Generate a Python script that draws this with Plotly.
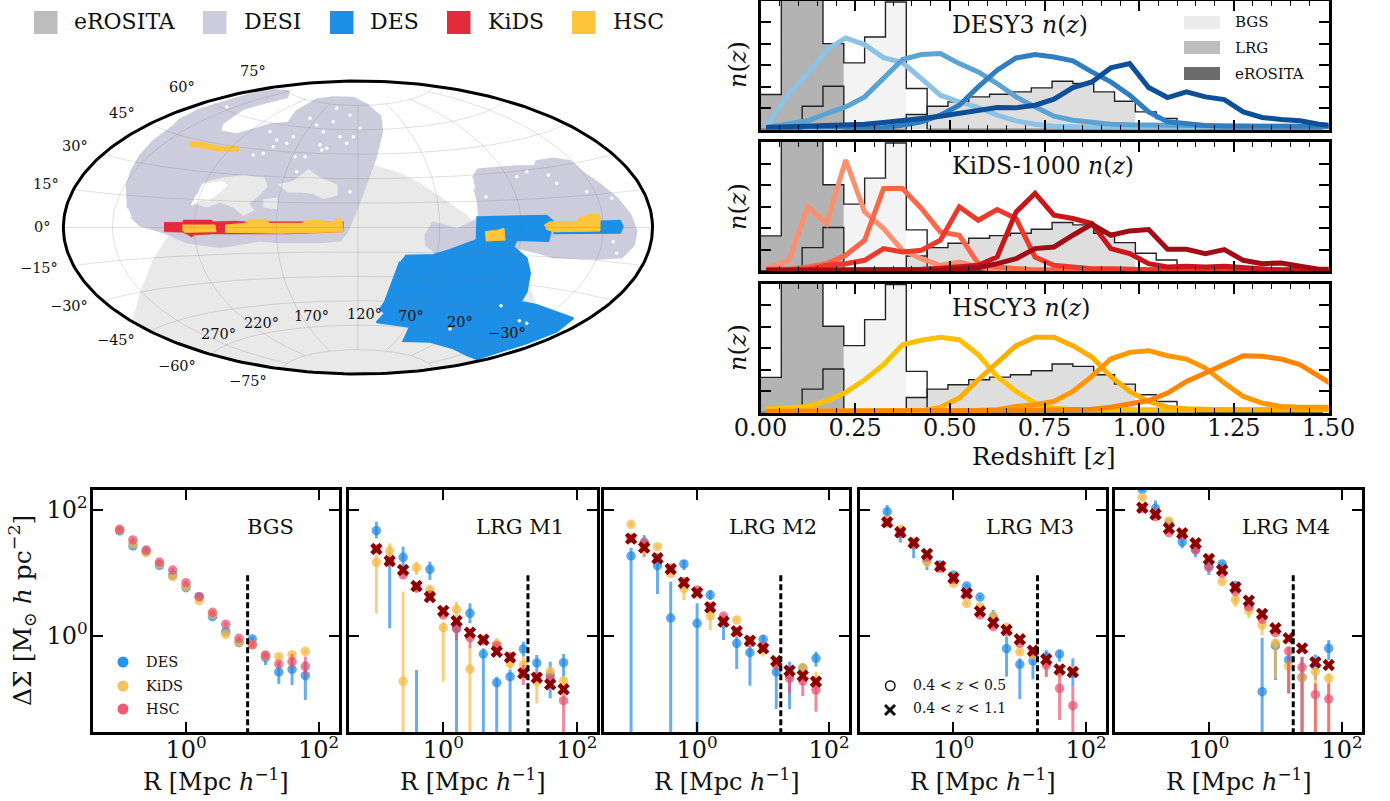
import numpy as np
import plotly.graph_objects as go

W, H = 1390, 801
SERIF = "DejaVu Serif"

# ---------- sky map footprints, in map units (the ellipse spans x 63.4..652.5, y 81..374)
erosita_x = [373,400,420,466.7,500,529,536,480,437,358,284,218,175,132.4,140,153,170,187,200,235,300]
erosita_y = [165,173,183,215,250,285,304,360.9,368.6,374,369.3,356.4,342.4,321.7,293,260,233,216,200,175,168]
desi_n_x = [128.3,127.3,131.7,140,153.3,173.3,180,200,226.7,253.3,266.7,288.3,286.7,266.7,243.3,233.3,221.7,220,236.7,253.3,270,288.3,296.7,316.7,333.3,353.3,366.7,380,381.7,375,366.7,356.7,346.7,340,320,276.7,260,220,186.7,163.3,140,131.7]
desi_n_y = [208.3,185,171.7,156.7,141.7,126.7,120,110,101.7,94.3,90,91.7,96.7,101.7,108.3,115,123.3,131.7,135,130,125,123.3,111.7,100,97.7,98.3,105,116.7,131.7,158.3,181.7,208.3,231.7,240,241.7,241.7,240,246.7,241.7,231.7,225,216.7]
desi_s_x = [473.3,478.3,496.7,516.7,535,536.7,553.3,570,583.3,600,616.7,630,636,633.3,621.7,600,553.3,536.7,513.3,516.7,480,478.3,475]
desi_s_y = [178.3,170,168.3,166.7,166.7,161.7,159,161.7,173.3,185,198.3,215,231.7,245,256.7,258.3,256.7,251.7,246.7,240,221.7,201.7,188.3]
desi_w_x = [476.7,456.7,446.7,433.3,426,426.7,440,453.3,480]
desi_w_y = [220,230,226.7,223.3,235,245,255,251.7,241.7]
gray_patch_a_x = [200,203.3,223.3,243.3,264,266.7,256.7,248.3,253.3,243.3,233.3,220,206.7,195]
gray_patch_a_y = [195,183.3,178.3,175.7,178.3,186.7,196.7,203.3,210,215,206.7,201.7,206.7,203.3]
gray_patch_b_x = [278.3,293.3,308.3,320,336.7,336.7,323.3,313.3,300,286.7]
gray_patch_b_y = [185,181.7,170,178.3,185,195,198.3,193.3,191.7,191.7]
gray_patch_c_x = [263.3,276.7,276.7,263.3]
gray_patch_c_y = [200,198.3,208.3,206.7]
white_patch_x = [201.7,221.7,226.7,220,208.3,201.7,191.7,196.7]
white_patch_y = [185,181.7,185,191.7,200,198.3,205,195]
specks_x = [273.3,286.7,270,320,326.7,321.7,305,346.7,340,353.3,333.3,323.3,310,316.7,293.3,263.3,253.3,296.7,350,276.7,360,350,336.7,248.3,226.7,295,
            516.7,556.7,526.7,548.3,586.7,486,611.7,613.3,616.7,501,519.3,526.7,450]
specks_y = [146.7,143.3,131.7,145,148.3,150,156.7,143.3,136.7,136.7,121.7,131.7,118.3,125,136.7,153.3,155,171.7,191.7,140,128.3,115,108.3,126.7,106.7,156.7,
            176.7,183.3,171.7,175,191.7,196.7,198.3,241.7,253.3,305.7,320.7,323.3,329]
des_main_x = [405,433.3,450,476.7,477.3,546.7,553.3,548.3,516.7,513.3,526.7,530,526.7,520.7,536.7,573.3,556.7,526.7,476.7,466.7,453.3,430,403.3,410,376.7,385,380,385,400]
des_main_y = [255.7,255,250,240,217.3,215.7,221.7,241,240,246.7,258.3,273.3,291.7,301.7,305,318.3,331.7,343.3,359,355,348.3,341.7,341,326.7,322.3,313.3,309,301.7,261.7]
des_strip_x = [553.3,620,622.7,620,553.3]
des_strip_y = [223.3,220.7,226.7,232.7,233.3]
kids_x = [164,182.7,183.3,211.7,213.3,235,245,256.7,268.3,296.7,325,343.3,343.3,286.7,245,226.7,213.3,194,191.7,188.3,182.7,164]
kids_y = [222.3,222.3,220,220,221.7,221,221.7,221.7,221.7,221.7,221.7,221.7,231.7,234,234,234,234,235,237.3,235,232.3,231.7]
hsc_a_x = [182.3,215,216,185,182.3]
hsc_a_y = [225,225,231.7,232.3,230]
hsc_b_x = [225,245,248.3,266.7,269,301.7,305,323.3,325,333.3,335,341.7,343.3,306.7,280,225]
hsc_b_y = [225,223.3,220,219,223.3,223.3,221,220,221.7,221.7,219,219,231.7,232.7,233.3,232.3]
hsc_c_x = [189,200,210,223.3,231.7,239.3,238.3,233.3,220,203.3,189]
hsc_c_y = [141.7,141.7,144.3,147.3,146,147.7,151.7,151.7,151,148.3,145.7]
hsc_d_x = [485,498.3,504,505,485.7]
hsc_d_y = [231.7,230,228.3,240,241]
hsc_e_x = [544.3,550,576.7,580,590,600,600,553.3,546]
hsc_e_y = [225,221.7,221.7,217.3,214.3,215,231,231.7,229]

lat_labels = ["75°","60°","45°","30°","15°","0°","−15°","−30°","−45°","−60°","−75°"]
lat_label_x = [253,182,122.4,75.2,46.4,42.4,39.4,69.1,115.8,176.6,248.3]
lat_label_y = [71,87.3,113.3,146,184.3,226.7,267.7,306,340,365.7,381]
lon_labels = ["270°","220°","170°","120°","70°","20°","−30°"]
lon_label_x = [218.5,261,311.2,364.1,410.8,459.8,507]
lon_label_y = [334.3,322.7,316,314,316,322.3,333.3]
map_meridians = [-150,-100,-50,0,50,100,150]
map_parallels = [-75,-60,-45,-30,-15,0,15,30,45,60,75]

survey_names = ["eROSITA","DESI","DES","KiDS","HSC"]
survey_colors = ["#bdbdbd","#ccccdd","#1e8fe6","#e32c39","#ffc53a"]

# ---------- redshift distributions (one axis tick = 64.3 read units)
hist_edges = [round(0.055*i,3) for i in range(28)]
bgs_hist = [105,430,430,258,200,278,383,123,0,0,0,0,0,0,0,0,0,0,0,0,0,0,0,0,0,0,0]
lrg_hist = [0,0,70,130,0,0,0,45,70,83,98,106,113,125,145,138,113,85,53,33,10,0,0,0,0,0,0]

z_grid = [0.015]+[round(0.075+0.05*i,3) for i in range(29)]+[1.525]
des1 = [8,108,168,240,275,255,216,201,153,103,83,66,43,26,16,10,8,6,5,5,5,5,5,5,4,4,4,4,4,4,4]
des2 = [6,15,26,48,68,98,153,210,225,228,198,173,138,98,68,40,28,21,16,14,13,12,11,10,10,10,10,10,10,10,10]
des3 = [5,5,5,5,5,6,6,13,23,43,73,128,178,215,225,218,206,173,143,103,53,23,16,12,10,10,10,10,10,10,10]
des4 = [6,8,10,12,13,16,21,26,33,40,48,58,66,65,73,91,126,143,185,198,126,96,113,98,90,53,36,30,26,16,10]
kids1 = [7,32,192,142,332,177,127,62,37,17,27,12,3,3,3,3,3,3,3,3,3,3,3,3,3,3,3,3,3,3,3]
kids2 = [5,5,12,22,47,92,247,247,187,117,107,22,12,7,3,3,3,3,3,3,3,3,3,3,3,3,3,3,3,3,3]
kids3 = [3,3,5,17,22,32,67,57,62,92,192,152,184,157,42,17,12,7,7,4,4,4,4,4,4,3,3,3,3,3,3]
kids4 = [2,2,2,2,2,2,3,3,5,8,12,17,42,177,232,167,157,142,67,52,22,12,14,12,14,10,7,3,3,3,3]
kids5 = [2,2,2,2,2,2,2,2,2,3,7,10,22,37,67,72,107,140,107,120,124,65,65,52,64,32,22,24,14,5,5]
hsc1 = [10,13,18,35,60,98,143,203,216,225,218,173,108,63,28,13,8,8,8,8,8,8,8,8,8,8,8,8,8,8,8]
hsc2 = [4,4,4,4,4,4,4,4,5,16,43,98,148,200,225,225,200,166,108,63,33,16,11,8,8,8,8,8,8,8,8]
hsc3 = [3,3,3,3,3,3,3,3,4,4,5,6,8,18,23,33,63,108,160,180,185,170,160,133,88,48,28,18,16,16,16]
hsc4 = [3,3,3,3,3,3,3,3,3,3,4,4,5,6,7,7,8,10,16,25,36,58,93,118,143,170,168,160,143,108,73]
des_colors = ["#8cc2e3","#5ba3d3","#2f7fc0","#0d4f99"]
kids_colors = ["#fc8f70","#fb6648","#ec392c","#c9161c","#a00d14"]
hsc_colors = ["#ffc000","#ffad00","#ff9800","#ff8500"]
nz_titles = ["DESY3","KiDS-1000","HSCY3"]
sample_names = ["BGS","LRG","eROSITA"]
sample_colors = ["#ececec","#bdbdbd","#6b6b6b"]

# ---------- lensing profiles: log10 Delta Sigma at each radius, bar ends as {index: (low, high)}
radius = [0.1,0.158,0.251,0.398,0.631,1.0,1.58,2.51,3.98,6.31,10.0,15.8,25.1,39.8,63.1]
panel_names = ["BGS","LRG M1","LRG M2","LRG M3","LRG M4"]
cut_radius = [8.5,18.5,18.5,18.5,18.5]

bgs_des = [1.666,1.427,1.342,1.119,.965,.764,.621,.302,.064,-.111,-.053,-.345,-.578,-.536,-.637]
bgs_kids = [1.682,1.459,1.321,1.141,.939,.78,.557,.34,.021,-.106,-.143,-.324,-.334,-.302,-.249]
bgs_hsc = [1.692,1.523,1.363,1.172,1.045,.843,.621,.371,.18,-.042,-.143,-.308,-.451,-.414,-.488]
bgs_des_err = {11:(-.467,-.255),12:(-.769,-.414),13:(-.785,-.361),14:(-1.024,-.414)}
bgs_kids_err = {}
bgs_hsc_err = {13:(-.52,-.3),14:(-.65,-.33)}

m1_des = [1.671,1.178,1.247,-2,1.056,None,.117,.355,-.292,-.748,-.653,-.212,-.435,-.626,-.43]
m1_kids = [1.167,1.347,-.727,1.082,.727,.127,.419,-.531,-.058,-.133,-.44,-.467,-.732,-.573,-.721]
m1_hsc = [1.379,1.178,.966,.769,.647,.329,.117,-.032,-.08,-.159,-.334,-.6,-.653,-.679,-1.034]
m1_x = [1.379,1.188,1.045,.79,.615,.393,.233,.048,-.064,-.255,-.345,-.6,-.668,-.775,-.854]
m1_des_err = {0:(1.549,1.814),1:(.117,1.337),2:(1.072,1.416),3:(-3,-.546),4:(.886,1.178),6:(-3,.196),7:(.196,.515),
              8:(-3,-.202),9:(-3,-.653),10:(-3,-.546),11:(-.334,-.095),12:(-.6,-.308),13:(-.997,-.414),14:(-.653,-.292)}
m1_kids_err = {0:(.355,1.284),1:(1.204,1.47),2:(-3,.7),3:(.966,1.178),4:(.568,.806),5:(-.732,.223),6:(.302,.541),
               7:(-3,-.202),9:(-.2,-.04),10:(-.546,-.334),11:(-.653,-.334),12:(-1.077,-.679),13:(-.706,-.493),14:(-.838,-.653)}
m1_hsc_err = {6:(-.069,.2),7:(-.202,.064),11:(-.785,-.467),14:(-3,-.918),3:(.68,.85)}

m2_des = [1.268,1.47,1.114,.281,1.141,.196,.647,.2,-.122,-.271,-.058,-.578,-.626,-.52,-.361]
m2_kids = [1.772,1.39,1.416,.992,.753,.674,.313,.22,.249,-.069,-.202,-.414,-.573,-.509,-.706]
m2_hsc = [1.549,1.485,1.241,1.072,.859,.727,.462,.313,.064,-.111,-.175,-.467,-.679,-.721,-.865]
m2_x = [1.544,1.401,1.231,1.061,.843,.684,.451,.223,.069,-.08,-.202,-.403,-.557,-.637,-.732]
m2_des_err = {0:(-3,1.4),1:(1.25,1.6),2:(.663,1.25),3:(-3,.859),4:(1.045,1.204),5:(-3,.515),6:(.568,.727),7:(-.07,.276),
              8:(-.53,-.016),9:(-.796,-.175),10:(-.28,.01),11:(-1.167,-.467),12:(-1.167,-.414),13:(-.652,-.44),14:(-.493,-.255)}
m2_kids_err = {1:(1.25,1.47),4:(.568,.85),6:(.09,.4),10:(-.334,-.12),14:(-.838,-.573)}
m2_hsc_err = {12:(-.918,-.573),13:(-.96,-.626),14:(-1.21,-.706)}

m3_des = [1.973,1.629,1.47,1.204,1.125,.966,.79,.615,.292,-.207,-.456,-.403,-.334,-.292,-.6]
m3_kids = [1.841,1.692,1.491,1.167,1.088,.833,.515,.462,.313,.133,-.26,-.308,-.44,-.589,-.557]
m3_hsc = [1.798,1.629,1.443,1.247,1.072,.897,.663,.329,.143,.064,-.122,-.255,-.467,-.838,-1.114]
m3_x = [1.804,1.645,1.48,1.3,1.103,.918,.674,.387,.207,.09,-.058,-.239,-.377,-.536,-.578]
m3_des_err = {0:(1.85,2.08),1:(1.48,1.72),2:(1.231,1.56),3:(1.045,1.3),8:(.17,.41),9:(-.653,-.016),10:(-1.008,-.361),
              11:(-.695,-.334),12:(-.5,-.23),13:(-.415,-.228),14:(-.812,-.361)}
m3_kids_err = {12:(-.663,-.33)}
m3_hsc_err = {12:(-.653,-.334),13:(-1.342,-.573),14:(-3,-.812)}

m4_des = [2.329,2.027,1.788,1.491,1.374,1.109,1.141,.796,.462,-.891,-.159,-.387,-.663,-.477,-.202]
m4_kids = [2.202,1.92,1.825,1.629,1.47,1.231,.859,.568,.398,.17,-.122,-.483,-.663,-.573,-.679]
m4_hsc = [2.027,1.894,1.639,1.602,1.363,1.088,.992,.7,.462,.26,.048,-.244,-.504,-.939,-1.008]
m4_x = [2.037,1.931,1.708,1.629,1.47,1.22,1.045,.769,.557,.345,.117,-.042,-.202,-.424,-.467]
m4_des_err = {1:(1.9,2.15),3:(1.39,1.56),4:(1.247,1.43),5:(.966,1.15),9:(-3,-.032),10:(-.706,-.069),11:(-.918,-.308),
              12:(-3,-.35),13:(-.7,-.3),14:(-.387,-.07)}
m4_kids_err = {7:(.46,.62),8:(.276,.45),9:(.011,.25),10:(-.679,-.05),11:(-.891,-.4),12:(-3,-.6),13:(-3,-.5),14:(-3,-.6)}
m4_hsc_err = {11:(-.918,-.178),12:(-3,-.334),13:(-3,-.76),14:(-3,-.76)}

des_series = [bgs_des,m1_des,m2_des,m3_des,m4_des]
kids_series = [bgs_kids,m1_kids,m2_kids,m3_kids,m4_kids]
hsc_series = [bgs_hsc,m1_hsc,m2_hsc,m3_hsc,m4_hsc]
wide_series = [None,m1_x,m2_x,m3_x,m4_x]
des_errs = [bgs_des_err,m1_des_err,m2_des_err,m3_des_err,m4_des_err]
kids_errs = [bgs_kids_err,m1_kids_err,m2_kids_err,m3_kids_err,m4_kids_err]
hsc_errs = [bgs_hsc_err,m1_hsc_err,m2_hsc_err,m3_hsc_err,m4_hsc_err]

# ---------- helpers
def fx(p): return p/W
def fy(p): return 1-p/H
fig = go.Figure()
annotations, shapes = [], []

def note(text, x, y, size, anchor="left", angle=0, xref="paper", yref="paper", color="#111"):
    if xref == "paper":
        x, y = fx(x), fy(y)
    annotations.append(dict(text=text, x=x, y=y, xref=xref, yref=yref, showarrow=False, xanchor=anchor,
                            yanchor="middle", textangle=angle, font=dict(family=SERIF, size=size, color=color)))

def box(x0, y0, x1, y1, color, kind="rect", line=None, lw=0):
    shapes.append(dict(type=kind, xref="paper", yref="paper", x0=fx(x0), x1=fx(x1), y0=fy(y1), y1=fy(y0),
                       fillcolor=color, line=dict(width=lw, color=line or color)))

def poly(xs, ys, color, lw=1.5):
    fig.add_trace(go.Scatter(x=xs, y=ys, mode="lines", fill="toself", fillcolor=color, line=dict(width=lw, color=color),
                             xaxis="x", yaxis="y", hoverinfo="skip", showlegend=False))

# ---------- map
MAP_X, MAP_Y = (63.4,652.5), (81,374)
def aitoff(lon, lat):
    lam, phi = np.radians(lon), np.radians(lat)
    alpha = np.arccos(np.cos(phi)*np.cos(lam/2))
    s = np.sinc(alpha/np.pi)
    x = 2*np.cos(phi)*np.sin(lam/2)/s/np.pi
    y = np.sin(phi)/s/(np.pi/2)
    return (MAP_X[0]+MAP_X[1])/2 + x*(MAP_X[1]-MAP_X[0])/2, (MAP_Y[0]+MAP_Y[1])/2 - y*(MAP_Y[1]-MAP_Y[0])/2

poly(erosita_x, erosita_y, "#e9e9e9", 0.5)
poly(desi_n_x, desi_n_y, "#ccccdd", 3)
poly(desi_s_x, desi_s_y, "#ccccdd", 3)
poly(desi_w_x, desi_w_y, "#ccccdd", 3)
poly(gray_patch_a_x, gray_patch_a_y, "#e9e9e9")
poly(gray_patch_b_x, gray_patch_b_y, "#e9e9e9")
poly(gray_patch_c_x, gray_patch_c_y, "#e9e9e9")
poly(white_patch_x, white_patch_y, "#ffffff")
poly(des_main_x, des_main_y, "#1e8fe6", 2)
poly(des_strip_x, des_strip_y, "#1e8fe6", 2)
fig.add_trace(go.Scatter(x=specks_x, y=specks_y, mode="markers", marker=dict(color="#fff", size=3.5), hoverinfo="skip", showlegend=False))
poly(kids_x, kids_y, "#e32c39", 0.5)
for hx, hy in [(hsc_a_x,hsc_a_y),(hsc_b_x,hsc_b_y),(hsc_c_x,hsc_c_y),(hsc_d_x,hsc_d_y),(hsc_e_x,hsc_e_y)]:
    poly(hx, hy, "#ffc53a", 1)
gx, gy = [], []
for m in map_meridians:
    a, b = aitoff(np.full(60,m), np.linspace(-75,75,60)); gx += list(a)+[None]; gy += list(b)+[None]
for p in map_parallels:
    a, b = aitoff(np.linspace(-179.9,179.9,120), np.full(120,p)); gx += list(a)+[None]; gy += list(b)+[None]
fig.add_trace(go.Scatter(x=gx, y=gy, mode="lines", line=dict(color="rgba(120,120,120,0.22)", width=1), hoverinfo="skip", showlegend=False))
t = np.linspace(0, 2*np.pi, 300)
fig.add_trace(go.Scatter(x=(MAP_X[0]+MAP_X[1])/2+(MAP_X[1]-MAP_X[0])/2*np.cos(t), y=(MAP_Y[0]+MAP_Y[1])/2+(MAP_Y[1]-MAP_Y[0])/2*np.sin(t),
                         mode="lines", line=dict(color="black", width=3), hoverinfo="skip", showlegend=False))
for s, x, y in zip(lat_labels+lon_labels, lat_label_x+lon_label_x, lat_label_y+lon_label_y):
    note(s, x, y, 14.5, "center", xref="x", yref="y")

layout_axes = {}
# the map axes extend past the ellipse so its outer labels stay inside their range
AX_X, AX_Y = (0,690), (40,400)
layout_axes["xaxis"] = dict(domain=[fx(AX_X[0]), fx(AX_X[1])], range=list(AX_X), visible=False, anchor="y")
layout_axes["yaxis"] = dict(domain=[fy(AX_Y[1]), fy(AX_Y[0])], range=[AX_Y[1], AX_Y[0]], visible=False, anchor="x")

for name, col, sx, tx in zip(survey_names, survey_colors, [34,203,330,447,572], [72,242,368,486,611]):
    box(sx, 11, sx+23.5, 34, col)
    note(name, tx, 22, 22)

# ---------- n(z) panels
nz_panels = [(2,1,129.5,[des1,des2,des3,des4],des_colors),(3,142,271,[kids1,kids2,kids3,kids4,kids5],kids_colors),
             (4,283.5,412.5,[hsc1,hsc2,hsc3,hsc4],hsc_colors)]
for (idx, top, bot, curves, cols), title in zip(nz_panels, nz_titles):
    xa, ya = f"x{idx}", f"y{idx}"
    def step(vals, i0, i1, color):
        fig.add_trace(go.Scatter(x=hist_edges[i0:i1+1], y=vals[i0:i1]+[vals[i1-1]], mode="lines", line=dict(shape="hv", width=0),
                                 fill="tozeroy", fillcolor=color, xaxis=xa, yaxis=ya, hoverinfo="skip", showlegend=False))
    step(bgs_hist, 0, 4, "#b3b3b3")
    step(bgs_hist, 4, 7, "#f3f3f3")
    step(lrg_hist, 7, 18, "#dedede")
    for vals in (bgs_hist, lrg_hist):
        fig.add_trace(go.Scatter(x=hist_edges, y=vals+[vals[-1]], mode="lines", line=dict(shape="hv", width=1.4, color="#222"),
                                 xaxis=xa, yaxis=ya, hoverinfo="skip", showlegend=False))
    for vals, c in zip(curves, cols):
        fig.add_trace(go.Scatter(x=z_grid, y=vals, mode="lines", line=dict(width=5, color=c), xaxis=xa, yaxis=ya,
                                 hoverinfo="skip", showlegend=False))
    last = idx == 4
    layout_axes[f"xaxis{idx}"] = dict(domain=[fx(760.5), fx(1328.5)], range=[0,1.5], anchor=ya, tick0=0, dtick=0.25, tickformat=".2f",
        showticklabels=last, ticks="inside", ticklen=10, tickwidth=1.5, tickcolor="black", showgrid=False, zeroline=False,
        showline=True, linewidth=3, linecolor="black", mirror="allticks", ticklabelstandoff=-8, automargin=False,
        tickfont=dict(family=SERIF, size=24, color="#111"),
        minor=dict(ticks="inside", dtick=0.05, tick0=0, ticklen=5, tickwidth=1.2, tickcolor="black", showgrid=False))
    layout_axes[f"yaxis{idx}"] = dict(domain=[fy(bot), fy(top)], range=[0,386], anchor=xa, tickvals=[64.3*k for k in range(1,6)],
        showticklabels=False, ticks="inside", ticklen=10, tickwidth=1.5, tickcolor="black", showgrid=False, zeroline=False,
        showline=True, linewidth=3, linecolor="black", mirror="allticks", automargin=False)
    note(f"{title} <i>n</i>(<i>z</i>)", 950, {2:25,3:166,4:308}[idx], 23.5)
    note("<i>n</i>(<i>z</i>)", 738, {2:65,3:207,4:348}[idx], 24, "center", -90)

for name, col, y0 in zip(sample_names, sample_colors, [16,41,67]):
    box(1184, y0, 1220, y0+13, col)
    note(name, 1233, y0+6.5, 15)
note("Redshift [<i>z</i>]", 1044, 457, 24.5, "center")

# ---------- lensing panels
lens_px = [(92.5,338.5),(349,597),(604,849),(860,1106),(1115,1362)]
DES_C, KIDS_C, HSC_C = "30,136,229", "245,185,66", "232,80,111"

def add_series(vals, errs, rgb, xa, ya):
    y, lo, hi = [], [], []
    for i, v in enumerate(vals):
        if v is None:
            y.append(None); lo.append(0); hi.append(0); continue
        low, high = errs.get(i, (v-0.03, v+0.03))
        y.append(10**v); lo.append(10**v-10**low); hi.append(10**high-10**v)
    fig.add_trace(go.Scatter(x=radius, y=y, mode="markers", marker=dict(size=9.5, color=f"rgba({rgb},0.72)", line=dict(width=0)),
                             error_y=dict(type="data", symmetric=False, array=hi, arrayminus=lo, color=f"rgba({rgb},0.68)", thickness=3, width=0),
                             xaxis=xa, yaxis=ya, hoverinfo="skip", showlegend=False))

for k, (px0, px1) in enumerate(lens_px):
    idx = 5+k
    xa, ya = f"x{idx}", f"y{idx}"
    add_series(des_series[k], des_errs[k], DES_C, xa, ya)
    add_series(kids_series[k], kids_errs[k], KIDS_C, xa, ya)
    add_series(hsc_series[k], hsc_errs[k], HSC_C, xa, ya)
    if wide_series[k] is not None:
        fig.add_trace(go.Scatter(x=radius, y=[10**v for v in wide_series[k]], mode="markers",
                                 marker=dict(symbol="x", size=11, color="#8b0000", line=dict(width=0)),
                                 xaxis=xa, yaxis=ya, hoverinfo="skip", showlegend=False))
    fig.add_trace(go.Scatter(x=[cut_radius[k]]*2, y=[1e-3,10], mode="lines", line=dict(color="black", width=3, dash="6px,3px"),
                             xaxis=xa, yaxis=ya, hoverinfo="skip", showlegend=False))
    layout_axes[f"xaxis{idx}"] = dict(domain=[fx(px0), fx(px1)], type="log", range=[-1.41,2.3], anchor=ya, tickvals=[1,100],
        ticktext=["10<sup>0</sup>","10<sup>2</sup>"], ticks="inside", ticklen=10, tickwidth=1.5, tickcolor="black", showgrid=False, zeroline=False,
        showline=True, linewidth=3, linecolor="black", mirror="allticks", automargin=False, ticklabelstandoff=-6,
        tickfont=dict(family=SERIF, size=24, color="#111"))
    layout_axes[f"yaxis{idx}"] = dict(domain=[fy(732), fy(490)], type="log", range=[-1.533,2.318], anchor=xa, tickvals=[1,100],
        ticktext=["10<sup>0</sup>","10<sup>2</sup>"], showticklabels=k==0, ticks="inside", ticklen=10, tickwidth=1.5, tickcolor="black",
        showgrid=False, zeroline=False, showline=True, linewidth=3, linecolor="black", mirror="allticks", automargin=False,
        ticklabelstandoff=-3, tickfont=dict(family=SERIF, size=24, color="#111"))
    note("R [Mpc <i>h</i><sup>−1</sup>]", (px0+px1)/2, 780, 24, "center")

for name, x_c in zip(panel_names, [270,520,773,1030,1286]):
    note(name, x_c, 527, 21, "center")
note("ΔΣ [M<sub>⊙</sub> <i>h</i> pc<sup>−2</sup>]", 22, 611, 25, "center", -90)

for name, rgb, y in zip(["DES","KiDS","HSC"], ["33,150,232","244,193,98","239,90,120"], [662,686,709]):
    box(117.5, y-5.5, 128.5, y+5.5, f"rgb({rgb})", "circle")
    note(name, 143.5, y, 14.5)

box(885.5, 681, 895, 690.5, "#ffffff", "circle", "#111", 1.5)
for a0, a1 in [((885,705),(895,715)),((885,715),(895,705))]:
    shapes.append(dict(type="line", xref="paper", yref="paper", x0=fx(a0[0]), y0=fy(a0[1]), x1=fx(a1[0]), y1=fy(a1[1]),
                       line=dict(color="#111", width=3)))
note("0.4 &lt; <i>z</i> &lt; 0.5", 911, 685, 14)
note("0.4 &lt; <i>z</i> &lt; 1.1", 911, 708, 14)

fig.update_layout(template="none", width=W, height=H, autosize=False, margin=dict(l=0,r=0,t=0,b=0), paper_bgcolor="white", plot_bgcolor="rgba(0,0,0,0)",
                  showlegend=False, annotations=annotations, shapes=shapes, font=dict(family=SERIF), **layout_axes)
fig.write_html("out.html", config={"displayModeBar": False},
               post_script="document.body.style.margin='0';document.body.style.overflow='hidden';")
